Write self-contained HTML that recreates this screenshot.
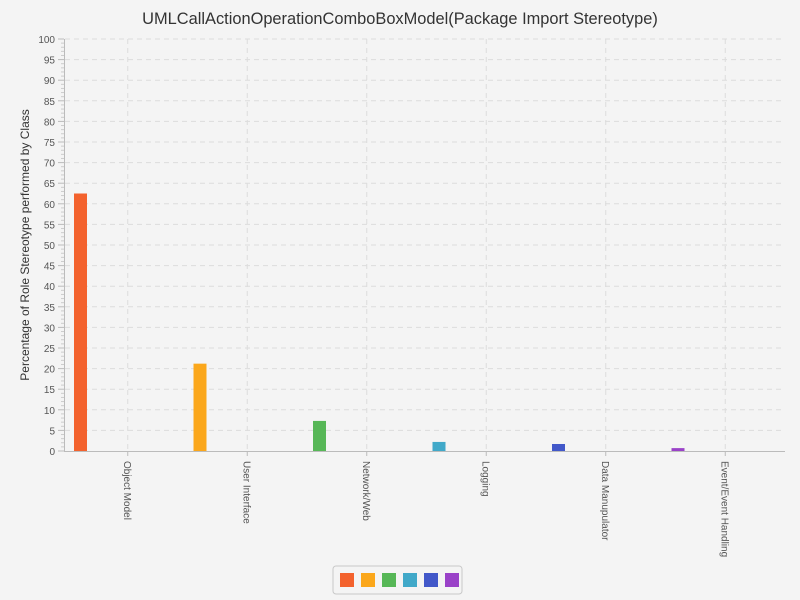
<!DOCTYPE html>
<html><head><meta charset="utf-8"><style>
body{margin:0;background:#f4f4f4;}
svg{display:block;font-family:"Liberation Sans",sans-serif;}
</style></head><body>
<svg width="800" height="600">
<rect width="800" height="600" fill="#f4f4f4"/>
<text x="400" y="24" text-anchor="middle" font-size="16.4" fill="#333">UMLCallActionOperationComboBoxModel(Package Import Stereotype)</text>
<text transform="translate(29,245) rotate(-90)" text-anchor="middle" font-size="12" fill="#333">Percentage of Role Stereotype performed by Class</text>
<g id="grid"></g><g id="yaxis"></g><g id="bars"></g><g id="xaxis"></g>
<g>
<rect x="333" y="566" width="129" height="28" fill="#f4f4f4" stroke="#c8c8c8" rx="3"/>
<g id="legend"></g>
</g>
</svg>
<script>
const categories=["Object Model","User Interface","Network/Web","Logging","Data Manupulator","Event/Event Handling"];
const values=[62.5,21.2,7.3,2.2,1.7,0.7];
const colors=["#f3622d","#fba71b","#57b757","#41a9c9","#4258c9","#9a42c8"];
const yTicks=[0,5,10,15,20,25,30,35,40,45,50,55,60,65,70,75,80,85,90,95,100];
const NS="http://www.w3.org/2000/svg";
const x0=68,x1=785,y0=451,y1=39,band=(x1-x0)/categories.length;
const ys=v=>y0-(v/100)*(y0-y1);
function mk(t,a,p){const e=document.createElementNS(NS,t);for(const k in a)e.setAttribute(k,a[k]);p.appendChild(e);return e;}
const grid=document.getElementById('grid'),ya=document.getElementById('yaxis'),xa=document.getElementById('xaxis'),bars=document.getElementById('bars'),lg=document.getElementById('legend');
yTicks.forEach(v=>{
 if(v>0){const l=mk('line',{x1:65,x2:x1,y1:ys(v),y2:ys(v),stroke:'#dcdcdc','stroke-dasharray':'5,4'},grid);
 
 }
 mk('line',{x1:58,x2:64,y1:ys(v),y2:ys(v),stroke:'#bbb'},ya);
 const t=mk('text',{x:55,y:ys(v)+4,'text-anchor':'end','font-size':'10',fill:'#555'},ya);t.textContent=v;
 
 
 if(v<100)for(let m=1;m<5;m++)mk('line',{x1:61,x2:64,y1:ys(v+m),y2:ys(v+m),stroke:'#ccc'},ya);
});
mk('line',{x1:64.5,x2:64.5,y1:y1,y2:y0,stroke:'#bbb'},ya);
mk('line',{x1:64,x2:x1,y1:y0+0.5,y2:y0+0.5,stroke:'#bbb'},xa);
categories.forEach((c,i)=>{
 const cx=x0+band*(i+0.5);
 const g=mk('line',{x1:cx,x2:cx,y1:y1,y2:y0,stroke:'#dcdcdc','stroke-dasharray':'5,4'},grid);
 
 
 mk('line',{x1:cx,x2:cx,y1:y0,y2:y0+5,stroke:'#bbb'},xa);
 const t=mk('text',{transform:`translate(${cx-4},${y0+10}) rotate(90)`,'font-size':'10',fill:'#555'},xa);t.textContent=c;
 
 
 const bx=x0+band*i+6;
 const b=mk('rect',{x:bx,y:ys(values[i]),width:13,height:y0-ys(values[i]),fill:colors[i]},bars);
 
 
 const s=mk('rect',{x:340+i*21,y:573,width:14,height:14,fill:colors[i]},lg);
 
 
});
</script>
</body></html>
